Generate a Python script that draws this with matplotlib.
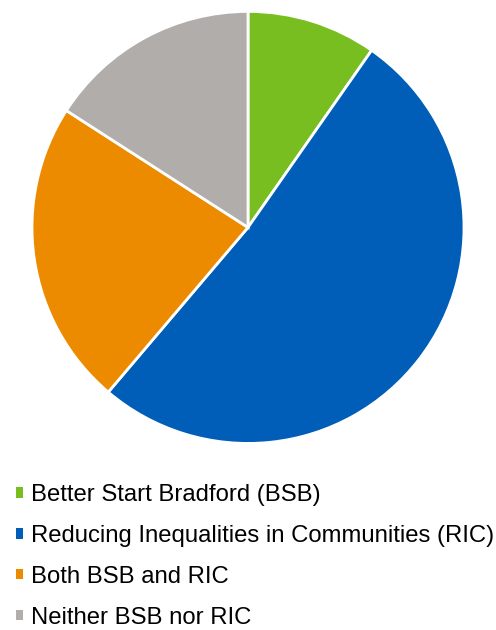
import matplotlib
matplotlib.use("Agg")
import matplotlib.pyplot as plt
from matplotlib.patches import Patch

labels = ["Better Start Bradford (BSB)", "Reducing Inequalities in Communities (RIC)",
          "Both BSB and RIC", "Neither BSB nor RIC"]
values = [9.7, 51.5, 22.9, 15.9]
colors = ["#78BE20", "#005EB8", "#ED8B00", "#B1ADAB"]

plt.rcParams['font.family'] = ['Liberation Sans', 'DejaVu Sans']

fig = plt.figure(figsize=(4.96, 6.30), dpi=100)
ax = fig.add_axes([0.0645, 0.296, 0.871, 0.686])
ax.pie(values, colors=colors, startangle=90, counterclock=False, radius=1,
       wedgeprops=dict(edgecolor='white', linewidth=2))
ax.set_xlim(-1.0, 1.0)
ax.set_ylim(-1.0, 1.0)
ax.set_aspect('equal')
ax.axis('off')

# legend unter dem Kreis
handles = [Patch(facecolor=c, edgecolor='none') for c in colors]
fig.legend(handles, labels, loc='upper left', bbox_to_anchor=(0.032, 0.2315),
           frameon=False, fontsize=17.2, handlelength=0.29, handleheight=0.29,
           handletextpad=0.33, labelspacing=0.79, borderaxespad=0, borderpad=0)

fig.savefig("out.png", dpi=100)
